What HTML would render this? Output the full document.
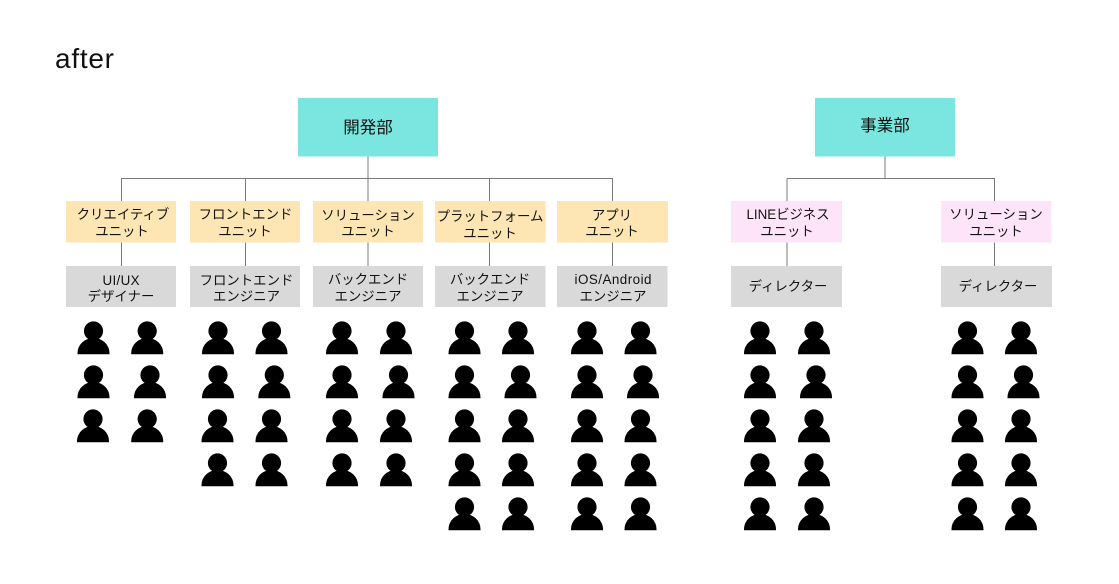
<!DOCTYPE html>
<html lang="ja"><head><meta charset="utf-8"><style>
html,body{margin:0;padding:0;background:#fff}
svg{display:block}
text{font-family:"Liberation Sans","Noto Sans CJK JP",sans-serif;fill:#111;text-anchor:middle;font-size:13.4px}
</style></head><body>
<svg width="1119" height="584" viewBox="0 0 1119 584" xmlns="http://www.w3.org/2000/svg">
<defs><g id="p"><circle cx="0" cy="0" r="9.600"/><path d="M-16 23.200V22A16 15 0 0 1 16 22V23.200Z"/></g></defs>
<rect width="1119" height="584" fill="#fff"/>
<text x="55" y="68" textLength="59" lengthAdjust="spacing" style="font-size:28px;text-anchor:start;fill:#111">after</text>

<g stroke="#7a7a7a" stroke-width="1" fill="none">
<path d="M121.500 201V178.500H612.500V201M245.500 178.500V201M489.500 178.500V201"/>
<path d="M368 156V201M885 156V178.500M787 178.500V201"/>
<path d="M787 178.500H994.500V201"/>
<path d="M121.500 242V266M245.500 242V266M368 242V266M489.500 242V266M612.500 242V266M787 242V266M994.500 242V266"/>
</g>

<g fill="#7be6df"><rect x="298" y="98" width="140" height="58.500"/><rect x="815" y="98" width="140" height="58.500"/></g>
<g fill="#fde6b3"><rect x="66" y="201" width="110" height="41.500"/><rect x="190" y="201" width="110" height="41.500"/><rect x="313" y="201" width="110" height="41.500"/><rect x="435" y="201" width="110.500" height="41.500"/><rect x="557" y="201" width="111" height="41.500"/></g>
<g fill="#fde4f8"><rect x="731" y="201" width="111" height="41.500"/><rect x="941" y="201" width="110.500" height="41.500"/></g>
<g fill="#d9d9d9"><rect x="66" y="266" width="110" height="41"/><rect x="190" y="266" width="110" height="41"/><rect x="313" y="266" width="110" height="41"/><rect x="435" y="266" width="110.500" height="41"/><rect x="557" y="266" width="110.500" height="41"/><rect x="731" y="266" width="111" height="41"/><rect x="941" y="266" width="111" height="41"/></g>

<text x="368" y="133" style="font-size:16.500px">開発部</text>
<text x="885" y="131" style="font-size:16.500px">事業部</text>

<text x="123" y="219">クリエイティブ</text><text x="122" y="236">ユニット</text>
<text x="245.500" y="219">フロントエンド</text><text x="245" y="236">ユニット</text>
<text x="368" y="220">ソリューション</text><text x="368" y="236">ユニット</text>
<text x="490" y="221">プラットフォーム</text><text x="490" y="238">ユニット</text>
<text x="612" y="220">アプリ</text><text x="612" y="236">ユニット</text>
<text x="788" y="219" textLength="83" lengthAdjust="spacing">LINEビジネス</text><text x="787" y="236">ユニット</text>
<text x="996" y="219">ソリューション</text><text x="996" y="236">ユニット</text>

<text x="121" y="285" textLength="37" lengthAdjust="spacing">UI/UX</text><text x="121" y="301">デザイナー</text>
<text x="246.500" y="285">フロントエンド</text><text x="246.500" y="301">エンジニア</text>
<text x="368" y="284">バックエンド</text><text x="368" y="301">エンジニア</text>
<text x="490" y="284">バックエンド</text><text x="490" y="301">エンジニア</text>
<text x="613" y="284" textLength="77" lengthAdjust="spacing">iOS/Android</text><text x="613" y="301">エンジニア</text>
<text x="788" y="291">ディレクター</text>
<text x="998" y="291">ディレクター</text>

<g fill="#000">
<use href="#p" x="93.500" y="331"/><use href="#p" x="147.200" y="331"/>
<use href="#p" x="93.500" y="375"/><use href="#p" x="150" y="375"/>
<use href="#p" x="93" y="419"/><use href="#p" x="147.200" y="419"/>

<use href="#p" x="218" y="331"/><use href="#p" x="271.500" y="331"/>
<use href="#p" x="218" y="375"/><use href="#p" x="274.300" y="375"/>
<use href="#p" x="217.500" y="419"/><use href="#p" x="271.500" y="419"/>
<use href="#p" x="217.500" y="463"/><use href="#p" x="271.500" y="463"/>

<use href="#p" x="342" y="331"/><use href="#p" x="396" y="331"/>
<use href="#p" x="342" y="375"/><use href="#p" x="398.500" y="375"/>
<use href="#p" x="342" y="419"/><use href="#p" x="396" y="419"/>
<use href="#p" x="342" y="463"/><use href="#p" x="396" y="463"/>

<use href="#p" x="464.500" y="331"/><use href="#p" x="518" y="331"/>
<use href="#p" x="464.500" y="375"/><use href="#p" x="520.500" y="375"/>
<use href="#p" x="464.500" y="419"/><use href="#p" x="518" y="419"/>
<use href="#p" x="464.500" y="463"/><use href="#p" x="518" y="463"/>
<use href="#p" x="464.500" y="507"/><use href="#p" x="518" y="507"/>

<use href="#p" x="587" y="331"/><use href="#p" x="640.500" y="331"/>
<use href="#p" x="587" y="375"/><use href="#p" x="643" y="375"/>
<use href="#p" x="587" y="419"/><use href="#p" x="640.500" y="419"/>
<use href="#p" x="587" y="463"/><use href="#p" x="640.500" y="463"/>
<use href="#p" x="587" y="507"/><use href="#p" x="640.500" y="507"/>

<use href="#p" x="760" y="331"/><use href="#p" x="814" y="331"/>
<use href="#p" x="760" y="375"/><use href="#p" x="816" y="375"/>
<use href="#p" x="760" y="419"/><use href="#p" x="814" y="419"/>
<use href="#p" x="760" y="463"/><use href="#p" x="814" y="463"/>
<use href="#p" x="760" y="507"/><use href="#p" x="814" y="507"/>

<use href="#p" x="967.500" y="331"/><use href="#p" x="1021" y="331"/>
<use href="#p" x="967.500" y="375"/><use href="#p" x="1023.500" y="375"/>
<use href="#p" x="967.500" y="419"/><use href="#p" x="1021" y="419"/>
<use href="#p" x="967.500" y="463"/><use href="#p" x="1021" y="463"/>
<use href="#p" x="967.500" y="507"/><use href="#p" x="1021" y="507"/>
</g>
</svg>
</body></html>
